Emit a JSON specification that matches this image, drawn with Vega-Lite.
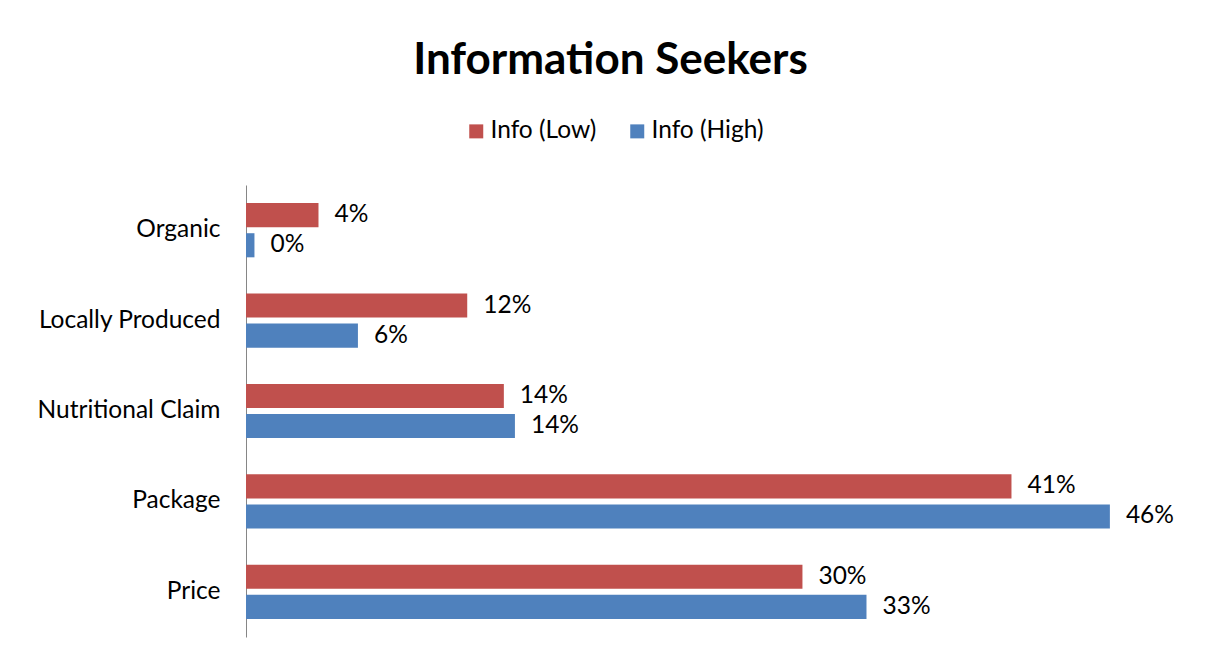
{
  "$schema": "https://vega.github.io/schema/vega-lite/v6.json",
  "width": 939,
  "height": 452,
  "autosize": {"type": "none"},
  "padding": {"left": 246, "top": 185, "right": 24, "bottom": 24},
  "background": "white",
  "title": {
    "text": "Information Seekers",
    "font": "Lato",
    "fontSize": 44,
    "fontWeight": "bold",
    "color": "black",
    "anchor": "middle",
    "dx": -105,
    "dy": -32
  },
  "data": {
    "values": [
      {"attribute": "Organic", "series": "Info (Low)", "value": 0.0386},
      {"attribute": "Organic", "series": "Info (High)", "value": 0.0045},
      {"attribute": "Locally Produced", "series": "Info (Low)", "value": 0.1178},
      {"attribute": "Locally Produced", "series": "Info (High)", "value": 0.0596},
      {"attribute": "Nutritional Claim", "series": "Info (Low)", "value": 0.1373},
      {"attribute": "Nutritional Claim", "series": "Info (High)", "value": 0.1432},
      {"attribute": "Package", "series": "Info (Low)", "value": 0.4076},
      {"attribute": "Package", "series": "Info (High)", "value": 0.46},
      {"attribute": "Price", "series": "Info (Low)", "value": 0.2963},
      {"attribute": "Price", "series": "Info (High)", "value": 0.3304}
    ]
  },
  "encoding": {
    "y": {
      "field": "attribute",
      "type": "nominal",
      "sort": ["Organic", "Locally Produced", "Nutritional Claim", "Package", "Price"],
      "scale": {"paddingInner": 0.4, "paddingOuter": 0.2},
      "axis": {
        "title": null,
        "ticks": false,
        "grid": false,
        "domainColor": "#868686",
        "labelFont": "Lato",
        "labelFontSize": 24.5,
        "labelColor": "black",
        "labelPadding": 26,
        "labelLimit": 400
      }
    },
    "yOffset": {
      "field": "series",
      "type": "nominal",
      "sort": ["Info (Low)", "Info (High)"],
      "scale": {"paddingInner": 0.2, "paddingOuter": 0}
    },
    "x": {
      "field": "value",
      "type": "quantitative",
      "scale": {"domain": [0, 0.5]},
      "axis": null
    }
  },
  "layer": [
    {
      "mark": {"type": "bar"},
      "encoding": {
        "color": {
          "field": "series",
          "type": "nominal",
          "scale": {"domain": ["Info (Low)", "Info (High)"], "range": ["#C0504D", "#4F81BD"]},
          "legend": {
            "orient": "none",
            "legendX": 218,
            "legendY": -66,
            "direction": "horizontal",
            "title": null,
            "symbolType": "square",
            "symbolSize": 196,
            "symbolStrokeWidth": 0,
            "labelFont": "Lato",
            "labelFontSize": 24.5,
            "labelColor": "black",
            "labelOffset": 2,
            "columnPadding": 28
          }
        }
      }
    },
    {
      "mark": {
        "type": "text",
        "align": "left",
        "baseline": "middle",
        "dx": 16,
        "font": "Lato",
        "fontSize": 24.5,
        "color": "black"
      },
      "encoding": {
        "text": {"field": "value", "type": "quantitative", "format": ".0%"}
      }
    }
  ],
  "config": {"view": {"stroke": null}}
}
